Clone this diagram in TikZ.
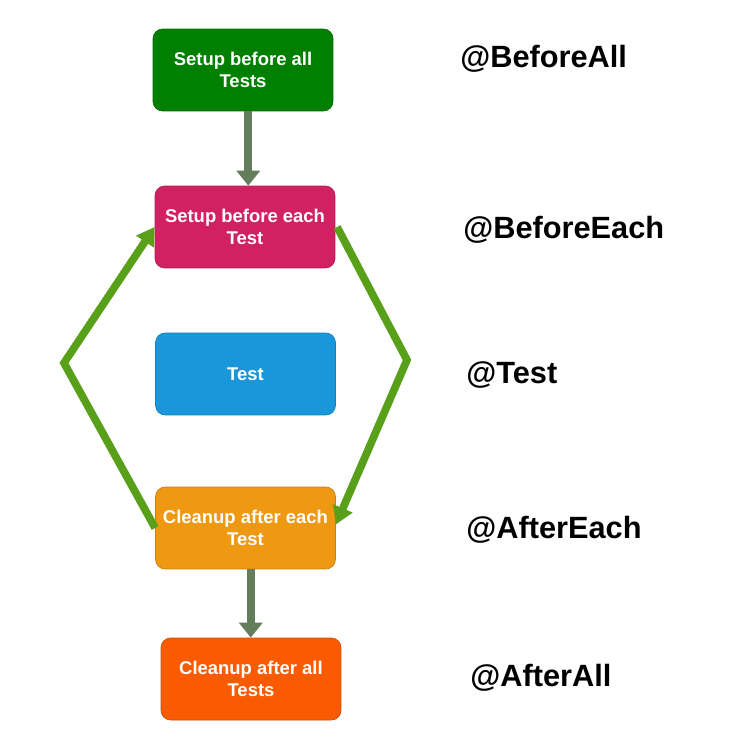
\documentclass[tikz,border=0pt]{standalone}
\usepackage{fontspec}
\setmainfont{Liberation Sans}
\usepackage{tikz}
\usetikzlibrary{arrows.meta,shapes}
\definecolor{allgreen}{HTML}{007F00}
\definecolor{eachpink}{HTML}{D22163}
\definecolor{testblue}{HTML}{1A96DB}
\definecolor{eachorange}{HTML}{EF9812}
\definecolor{allorange}{HTML}{FA5B00}
\definecolor{loopgreen}{HTML}{58A01A}
\definecolor{flowgray}{HTML}{647D5A}
\tikzstyle{stepbox}=[rectangle,rounded corners=5.5pt,minimum width=3.6cm,minimum height=1.64cm,inner sep=2pt,align=center,text=white,font=\fontsize{10.5}{12.5}\selectfont\bfseries]
\tikzstyle{tag}=[anchor=west,inner sep=0pt,font=\fontsize{17.5}{20}\selectfont\bfseries]
\tikzstyle{grayedge} = [draw=flowgray,line width=4.5pt,-{Triangle[length=8.5pt,width=13pt]}]
\tikzstyle{greenedge} = [draw=loopgreen,line width=4.4pt,-{Triangle[length=10pt,width=11.5pt]}]

\begin{document}
\begin{tikzpicture}[x=0.02cm,y=-0.02cm]
    \useasboundingbox (0,0) rectangle (731,742);
    % The five steps of the life cycle
    \foreach \pos/\name/\col/\txt in {{(243,70)/setupAll/allgreen/{Setup before all\\Tests}},
        {(245,227)/setupEach/eachpink/{Setup before each\\Test}},
        {(245.5,374)/test/testblue/{Test}},
        {(245.5,528)/cleanEach/eachorange/{Cleanup after each\\Test}},
        {(251,679)/cleanAll/allorange/{Cleanup after all\\Tests}}}
        \node[stepbox,fill=\col,draw=\col!85!black] (\name) at \pos {\txt};
    % Annotations on the right
    \foreach \pos/\name/\txt in {{(460,59)/tagBeforeAll/@BeforeAll}, {(463,230)/tagBeforeEach/@BeforeEach},
        {(466,375)/tagTest/@Test}, {(466,530)/tagAfterEach/@AfterEach}, {(470,678)/tagAfterAll/@AfterAll}}
        \node[tag] (\name) at \pos {\txt};
    % Straight flow
    \path[grayedge] ([xshift=3]setupAll.south) -- ([xshift=3]setupAll.south |- setupEach.north);
    \path[grayedge] ([xshift=3]cleanEach.south) -- ([xshift=3]cleanEach.south |- cleanAll.north);
    % The loop round each test
    \coordinate (leftBend) at (64,363);
    \coordinate (rightBend) at (407,360);
    \path[greenedge] (cleanEach.west) -- (leftBend) -- (setupEach.west);
    \path[greenedge] ([xshift=1pt]setupEach.east) -- (rightBend) -- ([yshift=2pt]cleanEach.east);
\end{tikzpicture}
\end{document}
